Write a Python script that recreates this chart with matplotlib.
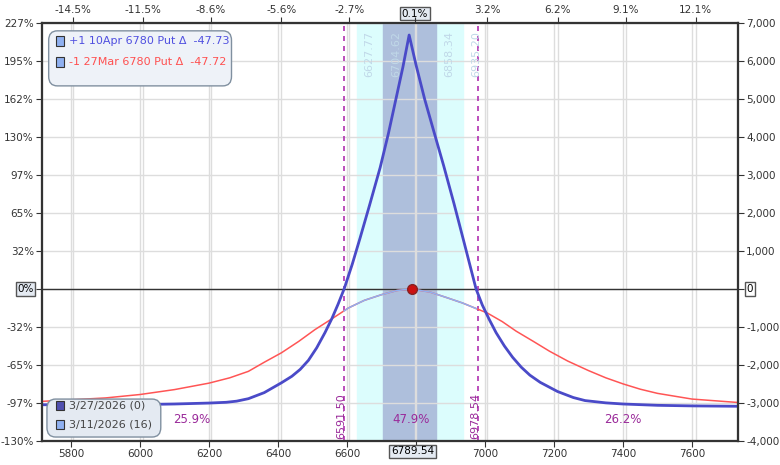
import matplotlib
matplotlib.use("Agg")
import matplotlib.pyplot as plt
from matplotlib.patches import FancyBboxPatch, Rectangle

expiry_x = [5716, 5900, 6000, 6100, 6200, 6250, 6280, 6314, 6360, 6410, 6440, 6464, 6488, 6512, 6536, 6556,
            6574, 6591.5, 6615, 6638, 6665, 6696, 6720, 6744, 6762, 6780, 6800, 6825, 6850, 6880, 6910,
            6940, 6974, 6992, 7012, 7032, 7056, 7080, 7105, 7130, 7160, 7210, 7256, 7290, 7350, 7400,
            7500, 7600, 7733]
expiry_y = [-3050, -3050, -3045, -3030, -3005, -2985, -2955, -2890, -2730, -2470, -2300, -2120, -1880, -1550,
            -1150, -780, -400, 0, 650, 1350, 2200, 3200, 4100, 5100, 5850, 6690, 5900, 5000, 4200, 3250,
            2250, 1200, 0, -420, -800, -1150, -1500, -1800, -2060, -2270, -2460, -2700, -2860, -2940,
            -3000, -3030, -3065, -3080, -3090]
t0_x = [5716, 5800, 5900, 6000, 6100, 6200, 6260, 6314, 6360, 6410, 6460, 6507, 6557, 6604, 6650, 6700,
        6745, 6785, 6840, 6893, 6935, 6970, 7006, 7050, 7090, 7140, 7187, 7240, 7300, 7350, 7400, 7450,
        7500, 7600, 7733]
t0_y = [-2960, -2920, -2870, -2780, -2650, -2480, -2340, -2170, -1930, -1680, -1380, -1070, -780, -500,
        -300, -150, -40, 0, -80, -240, -370, -500, -630, -860, -1110, -1380, -1640, -1900, -2150, -2340,
        -2500, -2640, -2750, -2900, -2990]
xticks = [5800, 6000, 6200, 6400, 6600, 6800, 7000, 7200, 7400, 7600]
yticks = [-4000, -3000, -2000, -1000, 0, 1000, 2000, 3000, 4000, 5000, 6000, 7000]
ypct = ["-130%", "-97%", "-65%", "-32%", "0%", "32%", "65%", "97%", "130%", "162%", "195%", "227%"]
top_pct = [-14.5, -11.5, -8.6, -5.6, -2.7, 0.1, 3.2, 6.2, 9.1, 12.1]
spot = 6789.54
band1 = (6627.77, 6935.20)
band2 = (6704.62, 6858.34)
breakevens = [6591.50, 6978.54]
zone_pct = [(6150, "25.9%"), (6785, "47.9%"), (7400, "26.2%")]

fig = plt.figure(figsize=(7.8, 4.65), dpi=100)
ax = fig.add_axes([0.054, 0.052, 0.892, 0.898])
ax.set_xlim(5716, 7733)
ax.set_ylim(-4000, 7000)
ax.axvspan(*band1, color="#dcfdfd", zorder=0)
ax.axvspan(*band2, color="#aebfdc", zorder=0.5)
ax.set_xticks(xticks)
ax.set_yticks(yticks)
ax.grid(True, color="#dddddd", lw=1, zorder=1)
for p in top_pct:
    ax.axvline(spot * (1 + p / 100), color="#dddddd", lw=1, zorder=1)
ax.axhline(0, color="#333333", lw=1, zorder=2)
for b in breakevens:
    ax.axvline(b, color="#b030b0", ls=(0, (3, 3)), lw=1.2, zorder=3)
    ax.text(b - 8, -3950, f"{b:.2f}", rotation=90, color="#9a2a9a", fontsize=8, ha="center", va="bottom", zorder=4)
for v in list(band1) + list(band2):
    ax.text(v + 38, 6800, f"{v:.2f}", rotation=90, color="#c0d8e8", fontsize=8, ha="center", va="top", zorder=4)
for x, t in zone_pct:
    ax.text(x, -3450, t, color="#9a2a9a", fontsize=8.5, ha="center", va="center")

ax.plot(t0_x, t0_y, color="#ff5555", lw=1.1, zorder=4)
inside = [(x, y) for x, y in zip(t0_x, t0_y) if breakevens[0] <= x <= 6975]
ax.plot([breakevens[0]] + [p[0] for p in inside] + [6975], [-580] + [p[1] for p in inside] + [-520],
        color="#8fb0f0", lw=1.1, zorder=5)
ax.plot(expiry_x, expiry_y, color="#4a4ac8", lw=2, zorder=6, solid_joinstyle="round")
ax.plot([spot], [0], "o", color="#cc1111", mec="#882222", ms=7, zorder=7)

ax.tick_params(axis="both", labelsize=7.5, colors="#333333", length=4, pad=2)
ax.set_xticklabels(["" if x == 6800 else str(x) for x in xticks])
ax.set_yticklabels(["" if t == "0%" else t for t in ypct])
ax2 = ax.twinx()
ax2.set_ylim(ax.get_ylim())
ax2.set_yticks(yticks)
ax2.set_yticklabels(["" if v == 0 else f"{v:,}" for v in yticks])
ax2.tick_params(labelsize=7.5, colors="#333333", length=4, pad=2)
ax3 = ax.twiny()
ax3.set_xlim(ax.get_xlim())
ax3.set_xticks([spot * (1 + p / 100) for p in top_pct])
ax3.set_xticklabels(["" if p == 0.1 else f"{p}%" for p in top_pct])
ax3.tick_params(labelsize=7.5, colors="#333333", length=4, pad=2)
for a in (ax, ax2, ax3):
    for s in a.spines.values():
        s.set_color("#333333")
        s.set_linewidth(1.5)

box = dict(boxstyle="square,pad=0.15", fc="#e4eaf2", ec="#555555", lw=1)
ax.text(5716 - 25, 0, "0%", ha="right", va="center", fontsize=7.5, bbox=box, zorder=10, clip_on=False)
ax.text(7733 + 25, 0, "0", ha="left", va="center", fontsize=7.5,
        bbox=dict(boxstyle="square,pad=0.15", fc="white", ec="#555555"), clip_on=False)
ax.text(spot, -4280, "6789.54", ha="center", va="center", fontsize=7.5, bbox=box, clip_on=False)
ax.text(spot * 1.001, 7250, "0.1%", ha="center", va="center", fontsize=7.5, bbox=box, clip_on=False)

# legends
ax.add_patch(FancyBboxPatch((5735, 5350), 530, 1450, boxstyle="round,pad=0,rounding_size=25",
                            fc="#eef2f8", ec="#8090a0", lw=1, zorder=8, mutation_aspect=10))
ax.add_patch(Rectangle((5755, 6400), 24, 260, fc="#8fb0f0", ec="#333", lw=0.8, zorder=9))
ax.add_patch(Rectangle((5755, 5850), 24, 260, fc="#8fb0f0", ec="#333", lw=0.8, zorder=9))
ax.text(5795, 6530, "+1 10Apr 6780 Put \u0394  -47.73", color="#5050e0", fontsize=8, va="center", zorder=9)
ax.text(5795, 5980, "-1 27Mar 6780 Put \u0394  -47.72", color="#ff5050", fontsize=8, va="center", zorder=9)
ax.add_patch(FancyBboxPatch((5730, -3900), 330, 1000, boxstyle="round,pad=0,rounding_size=25",
                            fc="#e4eaf2", ec="#8090a0", lw=1, zorder=8, mutation_aspect=10))
ax.add_patch(Rectangle((5755, -3200), 24, 260, fc="#5050b0", ec="#333", lw=0.8, zorder=9))
ax.add_patch(Rectangle((5755, -3700), 24, 260, fc="#8fb0f0", ec="#333", lw=0.8, zorder=9))
ax.text(5795, -3070, "3/27/2026 (0)", color="#444", fontsize=8, va="center", zorder=9)
ax.text(5795, -3570, "3/11/2026 (16)", color="#444", fontsize=8, va="center", zorder=9)

fig.savefig("out.png", dpi=100)
